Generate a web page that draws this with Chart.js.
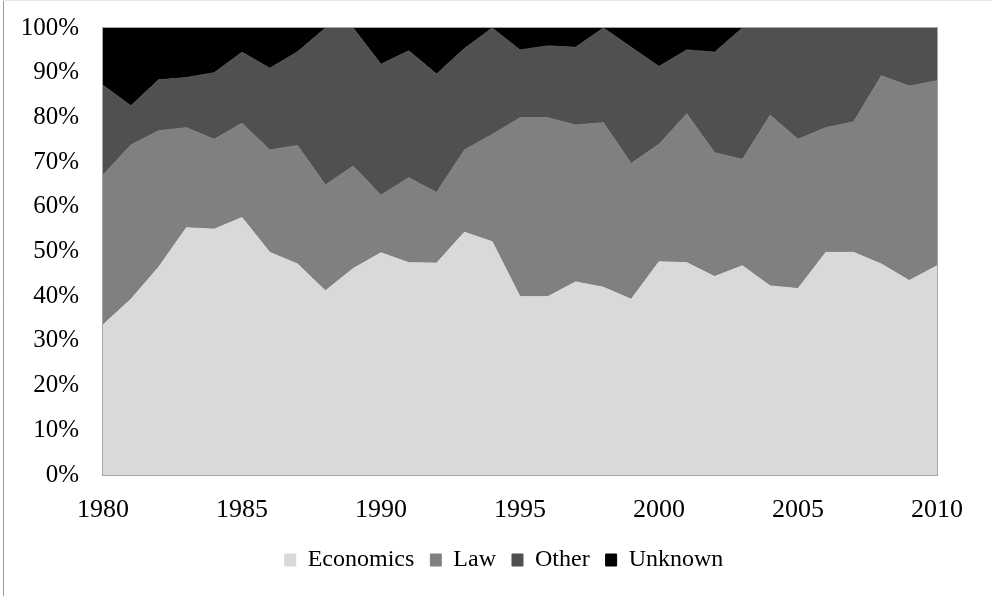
<!DOCTYPE html>
<html>
<head>
<meta charset="utf-8">
<script src="https://cdn.jsdelivr.net/npm/chart.js@4.4.1/dist/chart.umd.min.js"></script>
<style>
  html, body { margin: 0; padding: 0; background: #ffffff; }
  #grafico { display: block; }
</style>
</head>
<body>
<canvas id="grafico" width="992" height="596"></canvas>
<script>
// años y participación (%) por categoría
const anios = [1980, 1981, 1982, 1983, 1984, 1985, 1986, 1987, 1988, 1989, 1990,
  1991, 1992, 1993, 1994, 1995, 1996, 1997, 1998, 1999, 2000,
  2001, 2002, 2003, 2004, 2005, 2006, 2007, 2008, 2009, 2010];

const economics = [33.6, 39.3, 46.5, 55.3, 55.0, 57.6, 49.8, 47.2, 41.2, 46.2, 49.7,
  47.5, 47.4, 54.3, 52.2, 39.9, 39.9, 43.2, 42.0, 39.3, 47.7,
  47.5, 44.4, 46.8, 42.3, 41.7, 49.8, 49.8, 47.2, 43.5, 46.8];
const law = [33.5, 34.5, 30.5, 22.4, 20.1, 21.1, 22.9, 26.5, 23.7, 22.9, 12.9,
  19.0, 15.8, 18.4, 24.0, 40.0, 40.0, 35.1, 36.8, 30.4, 26.3,
  33.3, 27.7, 23.8, 38.2, 33.4, 27.9, 29.2, 42.1, 43.5, 41.4];
const other = [20.1, 8.8, 11.4, 11.2, 14.9, 15.9, 18.3, 21.0, 35.1, 30.9, 29.3,
  28.4, 26.5, 22.7, 23.8, 15.2, 16.1, 17.4, 21.2, 26.0, 17.4,
  14.3, 22.5, 29.4, 19.5, 24.9, 22.3, 21.0, 10.7, 13.0, 11.8];
const unknown = [12.8, 17.4, 11.6, 11.1, 10.0, 5.4, 9.0, 5.3, 0, 0, 8.1,
  5.1, 10.3, 4.6, 0, 4.9, 4.0, 4.3, 0, 4.3, 8.6,
  4.9, 5.4, 0, 0, 0, 0, 0, 0, 0, 0];

const ticksY = [0, 10, 20, 30, 40, 50, 60, 70, 80, 90, 100];

const fuente = '"Liberation Serif", "Times New Roman", serif';

function serie(nombre, datos, color, relleno) {
  return {
    label: nombre,
    data: datos,
    backgroundColor: color,
    borderColor: color,
    borderWidth: 1,
    pointRadius: 0,
    tension: 0,
    fill: relleno
  };
}

// marco del gráfico y borde del área de trazado
const marco = {
  id: 'marco',
  beforeDraw(chart) {
    const ctx = chart.ctx;
    ctx.save();
    ctx.fillStyle = '#ffffff';
    ctx.fillRect(0, 0, chart.width, chart.height);
    ctx.strokeStyle = '#9a9a9a';
    ctx.lineWidth = 1;
    ctx.beginPath();
    ctx.moveTo(3.5, 1);
    ctx.lineTo(3.5, chart.height);
    ctx.stroke();
    ctx.strokeStyle = '#e6e6e6';
    ctx.beginPath();
    ctx.moveTo(3, 0.5);
    ctx.lineTo(chart.width, 0.5);
    ctx.stroke();
    ctx.restore();
  },
  afterDatasetsDraw(chart) {
    const a = chart.chartArea;
    const ctx = chart.ctx;
    ctx.save();
    ctx.strokeStyle = '#a6a6a6';
    ctx.lineWidth = 1;
    ctx.strokeRect(Math.round(a.left) - 0.5, Math.round(a.top) - 0.5,
      Math.round(a.right - a.left) + 1, Math.round(a.bottom - a.top) + 1);
    ctx.restore();
  }
};

new Chart(document.getElementById('grafico'), {
  type: 'line',
  data: {
    labels: anios,
    datasets: [
      serie('Economics', economics, '#d9d9d9', 'origin'),
      serie('Law', law, '#808080', '-1'),
      serie('Other', other, '#505050', '-1'),
      serie('Unknown', unknown, '#000000', '-1')
    ]
  },
  options: {
    responsive: false,
    animation: false,
    devicePixelRatio: 1,
    layout: { padding: { top: 28, right: 0, left: 16, bottom: 14 } },
    plugins: {
      legend: {
        position: 'bottom',
        labels: {
          boxWidth: 11,
          boxHeight: 12,
          padding: 16,
          color: '#000000',
          font: { family: fuente, size: 24 }
        }
      },
      tooltip: { enabled: false },
      filler: { propagate: false }
    },
    scales: {
      x: {
        offset: false,
        grid: { display: false, drawTicks: false },
        border: { display: false },
        ticks: {
          autoSkip: false,
          maxRotation: 0,
          padding: 20,
          color: '#000000',
          font: { family: fuente, size: 26 },
          callback: function (v, i) {
            const anio = anios[i];
            return anio % 5 === 0 ? String(anio) : '';
          }
        },
        afterFit: function (escala) {
          escala.height = 57;
          escala.paddingLeft = 0;
          escala.paddingRight = 55;
        }
      },
      y: {
        stacked: true,
        min: 0,
        max: 100,
        grid: { display: false, drawTicks: false },
        border: { display: false },
        afterBuildTicks: function (escala) {
          escala.ticks = ticksY.map(v => ({ value: v }));
        },
        ticks: {
          padding: 24,
          color: '#000000',
          font: { family: fuente, size: 25 },
          callback: v => v + '%'
        },
        afterFit: function (escala) {
          escala.width = 87;
          escala.paddingTop = 0;
          escala.paddingBottom = 0;
        }
      }
    }
  },
  plugins: [marco]
});
</script>
</body>
</html>
